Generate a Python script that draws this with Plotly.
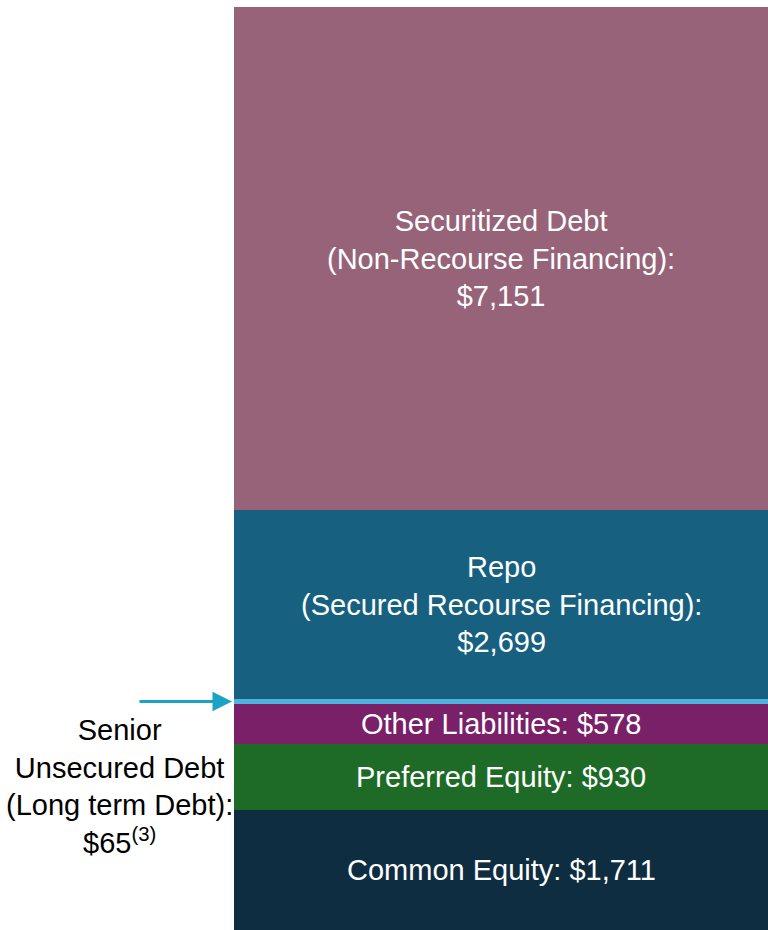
import plotly.graph_objects as go

# capital structure, $ millions, bottom to top
categories = [
    "Common Equity",
    "Preferred Equity",
    "Other Liabilities",
    "Senior Unsecured Debt",
    "Repo",
    "Securitized Debt",
]
values = [1711, 930, 578, 65, 2699, 7151]
labels = [
    "Common Equity: $1,711",
    "Preferred Equity: $930",
    "Other Liabilities: $578",
    "",
    "Repo<br>(Secured Recourse Financing):<br>$2,699",
    "Securitized Debt<br>(Non-Recourse Financing):<br>$7,151",
]
colors = ["#0e2d40", "#1d6b26", "#7a2068", "#4fb3e0", "#17607f", "#976379"]

senior_label = "Senior<br>Unsecured Debt<br>(Long term Debt):<br>$65<sup>(3)</sup>"

FONT = "Liberation Sans, Arial"

fig = go.Figure()

for cat, val, col in zip(categories, values, colors):
    fig.add_trace(go.Bar(
        x=["Capital"],
        y=[val],
        name=cat,
        marker=dict(color=col, line=dict(width=0)),
        width=1,
        hoverinfo="skip",
    ))

total = sum(values)
bottom = 0
mids = []
for val in values:
    mids.append(bottom + val / 2)
    bottom += val

for lab, mid in zip(labels, mids):
    if lab:
        fig.add_annotation(
            x=0, y=mid, xref="x", yref="y",
            text=lab, showarrow=False,
            font=dict(family=FONT, size=29, color="white"),
        )

senior_mid = mids[categories.index("Senior Unsecured Debt")]

# arrow pointing at the thin senior debt slice
fig.add_annotation(
    x=-0.5, y=senior_mid, xref="x", yref="y",
    text="", showarrow=True,
    ax=-96, ay=0, axref="pixel", ayref="pixel",
    arrowhead=2, arrowsize=1.3, arrowwidth=3, arrowcolor="#1aa3c4",
    standoff=2,
)

fig.add_annotation(
    x=-0.215, y=senior_mid, xref="paper", yref="y",
    xanchor="center", yanchor="top", yshift=-10,
    text=senior_label, showarrow=False, align="center",
    font=dict(family=FONT, size=29, color="black"),
)

fig.update_layout(
    barmode="stack",
    bargap=0,
    width=768,
    height=930,
    margin=dict(l=234, r=0, t=7, b=0),
    showlegend=False,
    plot_bgcolor="white",
    paper_bgcolor="white",
    xaxis=dict(visible=False, range=[-0.5, 0.5]),
    yaxis=dict(visible=False, range=[0, total]),
)

# drop the page's default body margin so the figure fills the window
fig.write_html(
    "out.html",
    config={"displayModeBar": False},
    post_script="document.body.style.margin='0';document.body.style.overflow='hidden';",
)
